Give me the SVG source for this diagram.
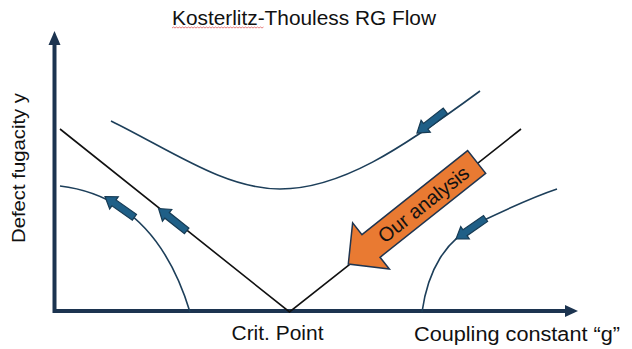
<svg xmlns="http://www.w3.org/2000/svg" width="632" height="349" viewBox="0 0 632 349">
<style>
  .lbl { font-family: "Liberation Sans", Arial, sans-serif; fill: #111; }
  .axis { stroke: #1c3450; stroke-width: 4; fill: none; }
  .flow { stroke: #1d3f5a; stroke-width: 1.6; fill: none; }
  .sep { stroke: #111; stroke-width: 1.6; fill: none; }
  .small-arrow { fill: #1f5f87; stroke: #173b54; stroke-width: 1.2; stroke-linejoin: miter; }
</style>
<defs>
  <path id="sa" d="M0,0 L11,-7.5 L11,-3.6 L36,-3.6 L36,3.6 L11,3.6 L11,7.5 Z"/>
</defs>
<rect width="632" height="349" fill="#ffffff"/>

<g id="title">
  <text class="lbl" x="304" y="25" font-size="20" text-anchor="middle" textLength="264" lengthAdjust="spacingAndGlyphs">Kosterlitz-Thouless RG Flow</text>
  <path d="M172,28 l1.5,-1 l1.5,1 l1.5,-1 l1.5,1 l1.5,-1 l1.5,1 l1.5,-1 l1.5,1 l1.5,-1 l1.5,1 l1.5,-1 l1.5,1 l1.5,-1 l1.5,1 l1.5,-1 l1.5,1 l1.5,-1 l1.5,1 l1.5,-1 l1.5,1 l1.5,-1 l1.5,1 l1.5,-1 l1.5,1 l1.5,-1 l1.5,1 l1.5,-1 l1.5,1 l1.5,-1 l1.5,1 l1.5,-1 l1.5,1 l1.5,-1 l1.5,1 l1.5,-1 l1.5,1 l1.5,-1 l1.5,1 l1.5,-1 l1.5,1 l1.5,-1 l1.5,1 l1.5,-1 l1.5,1 l1.5,-1 l1.5,1 l1.5,-1 l1.5,1 l1.5,-1 l1.5,1 l1.5,-1 l1.5,1 l1.5,-1 l1.5,1 l1.5,-1 l1.5,1 l1.5,-1 l1.5,1 l1.5,-1 l1.5,1 l1.5,-1" fill="none" stroke="#e06060" stroke-width="0.8"/>
</g>

<g id="axes">
  <path class="axis" d="M54.5,44 L54.5,311 L566,311"/>
  <path d="M54.5,31 L60.5,45 L48.5,45 Z" fill="#1c3450"/>
  <path d="M578,311 L565,305 L565,317 Z" fill="#1c3450"/>
</g>

<g id="labels">
  <text class="lbl" transform="translate(25,168) rotate(-90)" font-size="19" text-anchor="middle" textLength="150" lengthAdjust="spacingAndGlyphs">Defect fugacity y</text>
  <text class="lbl" x="277.5" y="340" font-size="20" text-anchor="middle" textLength="92" lengthAdjust="spacingAndGlyphs">Crit. Point</text>
  <text class="lbl" x="517" y="341" font-size="20" text-anchor="middle" textLength="206" lengthAdjust="spacingAndGlyphs">Coupling constant “g”</text>
</g>

<g id="connectors">
  <path id="separatrix" class="sep" d="M60,129 L289.5,312 L521,129"/>
  <path id="upper-flow" class="flow" d="M111,121 C172,151 225,189 280,189 C340,189 400,150 480,91"/>
  <path id="left-flow" class="flow" d="M60,186 C110,192 162,220 190,312"/>
  <path id="right-flow" class="flow" d="M422,312 C428,270 445,240 480,222 C505,210 530,198 557,189"/>
</g>

<g id="flow-arrows">
  <use href="#sa" class="small-arrow" transform="translate(417,133) rotate(-37.8)"/>
  <use href="#sa" class="small-arrow" transform="translate(105,196.5) rotate(35.2)"/>
  <use href="#sa" class="small-arrow" transform="translate(158.5,208.5) rotate(38.5)"/>
  <use href="#sa" class="small-arrow" transform="translate(456,239) rotate(-34.8)"/>
</g>

<g id="our-analysis" transform="translate(348.3,264) rotate(-38.5)">
  <path d="M0,0 L29,-29.5 L29,-14.5 L164,-14.5 L164,14.5 L29,14.5 L29,29.5 Z" fill="#e97a32" stroke="#1f3550" stroke-width="1.5" stroke-linejoin="miter"/>
  <text class="lbl" x="96" y="0" font-size="20" text-anchor="middle" dominant-baseline="central" textLength="110" lengthAdjust="spacingAndGlyphs">Our analysis</text>
</g>
</svg>
